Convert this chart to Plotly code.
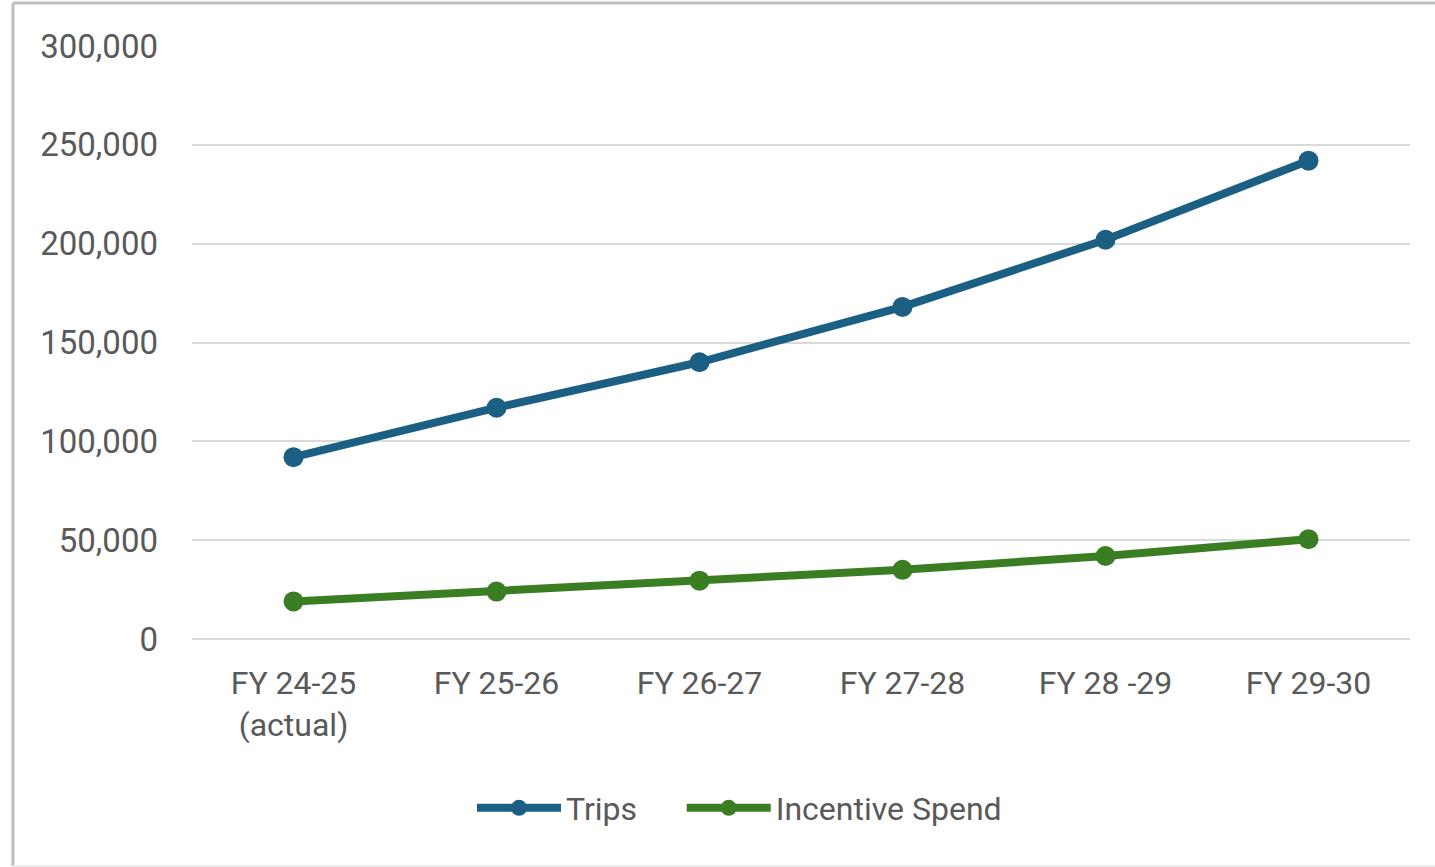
import plotly.graph_objects as go

categories = ["FY 24-25<br>(actual)", "FY 25-26", "FY 26-27", "FY 27-28", "FY 28 -29", "FY 29-30"]
trips = [92000, 117000, 140000, 168000, 202000, 242000]
incentive_spend = [19000, 24000, 29500, 35000, 42000, 50500]
series_names = ["Trips", "Incentive Spend"]
y_ticks = [0, 50000, 100000, 150000, 200000, 250000, 300000]
y_tick_labels = ["0", "50,000", "100,000", "150,000", "200,000", "250,000", "300,000"]

BLUE = "#1B5F82"
GREEN = "#3B7D23"
TEXT = "#595959"
FONT = "Roboto"

OFF = 0  # body margin removed via post_script
W, H = 1435, 867
ML, MR, MT, MB = 192, 25, 46, 228
PW, PH = W - ML - MR, H - MT - MB

def px_x(xs):
    return (xs - OFF - ML) / PW

def px_y(ys):
    return (H - MB - (ys - OFF)) / PH

NBSP = "\u00a0"

fig = go.Figure()
fig.add_trace(go.Scatter(
    x=list(range(len(categories))), y=trips, name=series_names[0] + NBSP * 5, mode="lines+markers",
    line=dict(color=BLUE, width=8), marker=dict(size=20, color=BLUE)))
fig.add_trace(go.Scatter(
    x=list(range(len(categories))), y=incentive_spend, name=series_names[1], mode="lines+markers",
    line=dict(color=GREEN, width=8), marker=dict(size=20, color=GREEN)))

fig.update_layout(
    width=W, height=H,
    margin=dict(l=ML, r=MR, t=MT, b=MB, pad=0),
    paper_bgcolor="white", plot_bgcolor="white",
    font=dict(family=FONT, color=TEXT, size=32),
    showlegend=True,
    legend=dict(orientation="h", x=px_x(472), xanchor="left",
                y=px_y(808), yanchor="middle",
                font=dict(family=FONT, size=32, color=TEXT),
                itemwidth=84),
    xaxis=dict(
        range=[-0.5, len(categories) - 0.5],
        tickmode="array", tickvals=list(range(len(categories))), ticktext=categories,
        showgrid=False, zeroline=False, showline=False, ticks="",
        ticklabelstandoff=22,
        tickfont=dict(family=FONT, size=32, color=TEXT),
        fixedrange=True),
    yaxis=dict(
        range=[0, 300000],
        tickmode="array", tickvals=y_ticks, ticktext=y_tick_labels,
        showgrid=True, gridcolor="#D9D9D9", gridwidth=2,
        zeroline=True, zerolinecolor="#D9D9D9", zerolinewidth=2,
        showline=False, ticks="", ticklabelstandoff=33,
        tickfont=dict(family=FONT, size=33, color=TEXT),
        fixedrange=True),
)

# chart-area border (left, top, bottom)
fig.add_shape(type="line", xref="paper", yref="paper",
              x0=px_x(13), x1=px_x(13), y0=px_y(866), y1=px_y(3),
              line=dict(color="#BFBFBF", width=3))
fig.add_shape(type="line", xref="paper", yref="paper",
              x0=px_x(13), x1=px_x(1445), y0=px_y(3), y1=px_y(3),
              line=dict(color="#BFBFBF", width=3))
fig.add_shape(type="line", xref="paper", yref="paper",
              x0=px_x(13), x1=px_x(1445), y0=px_y(866), y1=px_y(866),
              line=dict(color="#EBEBEB", width=2))

fig.write_html("out.html",
               config={"displayModeBar": False, "staticPlot": True},
               post_script="document.body.style.margin='0';document.body.style.overflow='hidden';")
